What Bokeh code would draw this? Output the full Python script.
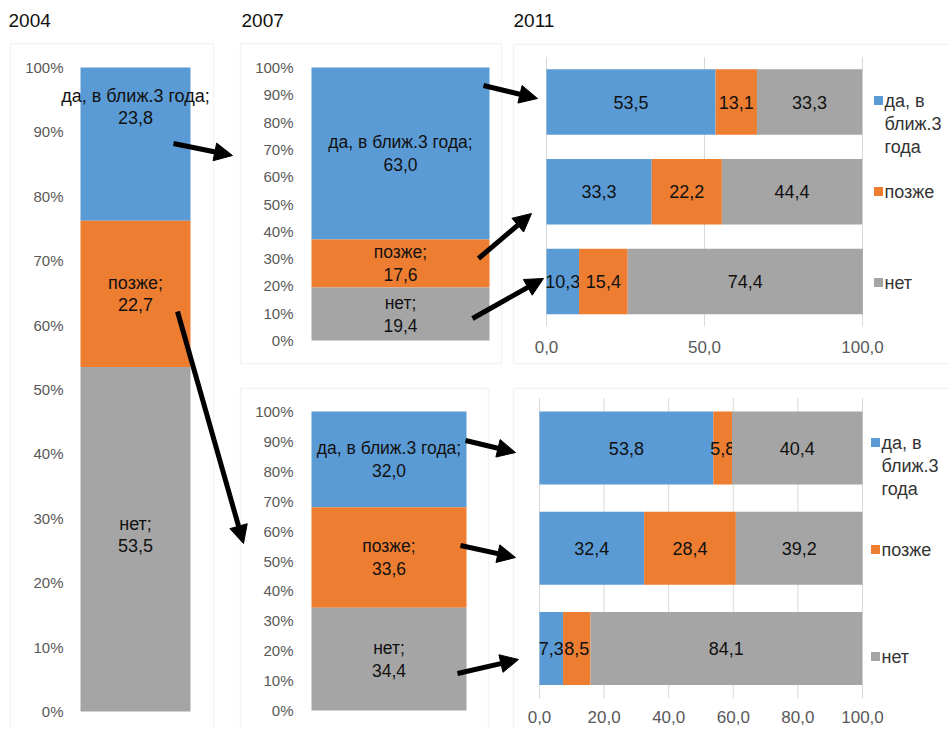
import numpy as np
from bokeh.plotting import figure
from bokeh.models import (Range1d, LinearAxis, FixedTicker, NumeralTickFormatter,
                          CustomJSTickFormatter, Arrow, NormalHead, BoxAnnotation, Label,
                          ColumnDataSource)
from bokeh.core.properties import value
from bokeh.embed import file_html
from bokeh.resources import INLINE

FONT = "Liberation Sans"

# ---------------- data ----------------
years = ["2004", "2007", "2011"]
series = ["да, в ближ.3 года", "позже", "нет"]
legend_labels = ["да, в\nближ.3\nгода", "позже", "нет"]
colors = ["#5B9BD5", "#ED7D31", "#A5A5A5"]

share_2004 = [23.8, 22.7, 53.5]          # да, позже, нет
share_2007_yes = [63.0, 17.6, 19.4]      # those who said «да» in 2004
share_2007_later = [32.0, 33.6, 34.4]    # those who said «позже» in 2004

# 2011, rows = answer given in 2007 (да, позже, нет)
yes_2011_a = [53.5, 33.3, 10.3]
later_2011_a = [13.1, 22.2, 15.4]
no_2011_a = [33.3, 44.4, 74.4]
yes_2011_b = [53.8, 32.4, 7.3]
later_2011_b = [5.8, 28.4, 8.5]
no_2011_b = [40.4, 39.2, 84.1]

pct_ticks = [0.0, 0.1, 0.2, 0.3, 0.4, 0.5, 0.6, 0.7, 0.8, 0.9, 1.0]
ticks_2011_a = [0, 50, 100]
ticks_2011_b = [0, 20, 40, 60, 80, 100]

# ---------------- canvas ----------------
W, H = 950, 729
X0, X1 = 0, 950      # page pixel at frame left / right
Y0, Y1 = 0, 729      # page pixel at frame top / bottom
LABEL_C = "#111111"
TICK_C = "#595959"
BORDER_C = "#D9D9D9"
BW = 0.6             # column width (category units)
BH = 0.73            # bar height (category units)

p = figure(width=W, height=H, output_backend="svg", toolbar_location=None,
           x_range=Range1d(X0, X1), y_range=Range1d(Y1, Y0),
           x_axis_type=None, y_axis_type=None, min_border=0,
           outline_line_color=None, background_fill_color="white",
           border_fill_color="white")

xr_extra, yr_extra = {}, {}


def add_range(name, dim, d0, px0, d1, px1):
    k = (d1 - d0) / (px1 - px0)
    if dim == "x":
        xr_extra[name] = Range1d(d0 + (X0 - px0) * k, d0 + (X1 - px0) * k)
    else:
        yr_extra[name] = Range1d(d0 + (Y1 - px0) * k, d0 + (Y0 - px0) * k)
    return lambda px: d0 + (px - px0) * k


def fmt(v):
    return f"{v:.1f}".replace(".", ",")


# panel frames
for l, r, t, b in [(10, 213, 43, 760), (240, 501, 43, 363), (513, 960, 44, 363),
                   (240, 488, 388, 760), (513, 960, 388, 760)]:
    p.add_layout(BoxAnnotation(left=l, right=r, top=t, bottom=b, fill_alpha=0,
                               fill_color=None, line_color=BORDER_C, line_width=1.5,
                               level="underlay"))

# year captions
for yr_txt, xpos in zip(years, [8, 241, 513]):
    p.add_layout(Label(x=xpos, y=20, text=yr_txt, text_baseline="middle",
                       text_align="left", text_font=FONT, text_font_size="19px",
                       text_color="#111111"))


def column_panel(key, vals, x_px, y_px, axis_px, size, line_h, offsets):
    xr, yr = key + "_x", key + "_y"
    to_x = add_range(xr, "x", -BW / 2, x_px[0], BW / 2, x_px[1])
    add_range(yr, "y", 0.0, y_px[0], 1.0, y_px[1])
    frac = np.array(vals) / 100.0
    bottoms = [0.0] * 3
    acc = 0.0
    for i in [2, 1, 0]:          # нет at the bottom, да on top
        bottoms[i] = acc
        acc += frac[i]
    src = ColumnDataSource(dict(
        x=[0.0] * 3,
        bottom=bottoms,
        top=[bottoms[i] + frac[i] for i in range(3)],
        mid=[bottoms[i] + frac[i] / 2 for i in range(3)],
        color=colors,
        label=[f"{s};\n{fmt(v)}" for s, v in zip(series, vals)],
        dy=offsets,
    ))
    p.vbar(x="x", width=BW, bottom="bottom", top="top", fill_color="color",
           line_color=None, source=src, x_range_name=xr, y_range_name=yr)
    p.text(x="x", y="mid", text="label", source=src, x_range_name=xr, y_range_name=yr,
           text_align="center", text_baseline="middle", text_font=value(FONT),
           text_font_size=f"{size}px", text_color=LABEL_C, text_line_height=line_h,
           y_offset="dy")
    ax = LinearAxis(x_range_name=xr, y_range_name=yr, fixed_location=to_x(axis_px),
                    bounds=(0, 1), ticker=FixedTicker(ticks=pct_ticks),
                    formatter=NumeralTickFormatter(format="0%"),
                    axis_line_color=None, major_tick_line_color=None,
                    minor_tick_line_color=None, major_tick_in=0, major_tick_out=0,
                    major_label_standoff=4, major_label_text_color=TICK_C,
                    major_label_text_font=FONT, major_label_text_font_size="15px")
    p.add_layout(ax, "left")


def bar_panel(key, yes, later, no, x_px, y_px, axis_px, ticks, leg):
    xr, yr = key + "_x", key + "_y"
    add_range(xr, "x", 0.0, x_px[0], 100.0, x_px[1])
    to_y = add_range(yr, "y", 0.0, y_px[0], 2.0, y_px[1])
    rows = [0, 1, 2]
    # gridlines
    p.segment(x0=ticks, x1=ticks, y0=[-0.5] * len(ticks), y1=[2.5] * len(ticks),
              line_color=BORDER_C, line_width=1, x_range_name=xr, y_range_name=yr)
    left = np.zeros(3)
    for vals, col in zip([yes, later, no], colors):
        v = np.array(vals)
        src = ColumnDataSource(dict(y=rows, left=left, right=left + v,
                                    mid=left + v / 2, label=[fmt(a) for a in vals]))
        p.hbar(y="y", left="left", right="right", height=BH, fill_color=col,
               line_color=None, source=src, x_range_name=xr, y_range_name=yr)
        p.text(x="mid", y="y", text="label", source=src, x_range_name=xr,
               y_range_name=yr, text_align="center", text_baseline="middle",
               text_font=value(FONT), text_font_size="18px", text_color=LABEL_C)
        left = left + v
    ax = LinearAxis(x_range_name=xr, y_range_name=yr, fixed_location=to_y(axis_px),
                    bounds=(0, 100), ticker=FixedTicker(ticks=ticks),
                    formatter=CustomJSTickFormatter(
                        code="return tick.toFixed(1).replace('.', ',');"),
                    axis_line_color=None, major_tick_line_color=None,
                    minor_tick_line_color=None, major_tick_in=0, major_tick_out=0,
                    major_label_standoff=4, major_label_text_color=TICK_C,
                    major_label_text_font=FONT, major_label_text_font_size="17px")
    p.add_layout(ax, "below")
    # legend
    lx, ly0, lstep = leg
    ly = [ly0 + i * lstep for i in range(3)]
    p.scatter(x=[lx] * 3, y=ly, marker="square", size=9, fill_color=colors,
              line_color=None)
    p.text(x=[lx + 6] * 3, y=ly, text=legend_labels, text_align="left",
           text_baseline="top", y_offset=-10, text_font=value(FONT),
           text_font_size="18px", text_color="#333333", text_line_height=1.15)


column_panel("p04", share_2004, (80, 190), (711, 67), 67, 18, 1.1, [-37, 0, -4])
column_panel("p07a", share_2007_yes, (311, 489), (340, 67), 297, 17.5, 1.15, [0, 0, 0])
column_panel("p07b", share_2007_later, (311, 466), (710, 411), 297, 17.5, 1.15, [0, 0, 0])
bar_panel("p11a", yes_2011_a, later_2011_a, no_2011_a, (546, 862), (101.5, 281), 336,
          ticks_2011_a, (878, 100, 91))
bar_panel("p11b", yes_2011_b, later_2011_b, no_2011_b, (539, 862), (447.5, 648), 706,
          ticks_2011_b, (875, 442, 107))

p.extra_x_ranges = xr_extra
p.extra_y_ranges = yr_extra

# arrows (page pixel coordinates)
arrows = [((173, 143), (232, 155)), ((177, 311), (243, 543)),
          ((483, 85), (537, 98)), ((478, 258), (531, 213)), ((472, 318), (543, 278)),
          ((465, 440), (515, 452)), ((460, 545), (515, 557)), ((457, 673), (518, 659))]
for (xs, ys), (xe, ye) in arrows:
    p.add_layout(Arrow(end=NormalHead(size=18, fill_color="black", line_color="black",
                                      line_width=1),
                       x_start=xs, y_start=ys, x_end=xe, y_end=ye,
                       line_color="black", line_width=5))

open("out.html", "w").write(file_html(p, INLINE))
